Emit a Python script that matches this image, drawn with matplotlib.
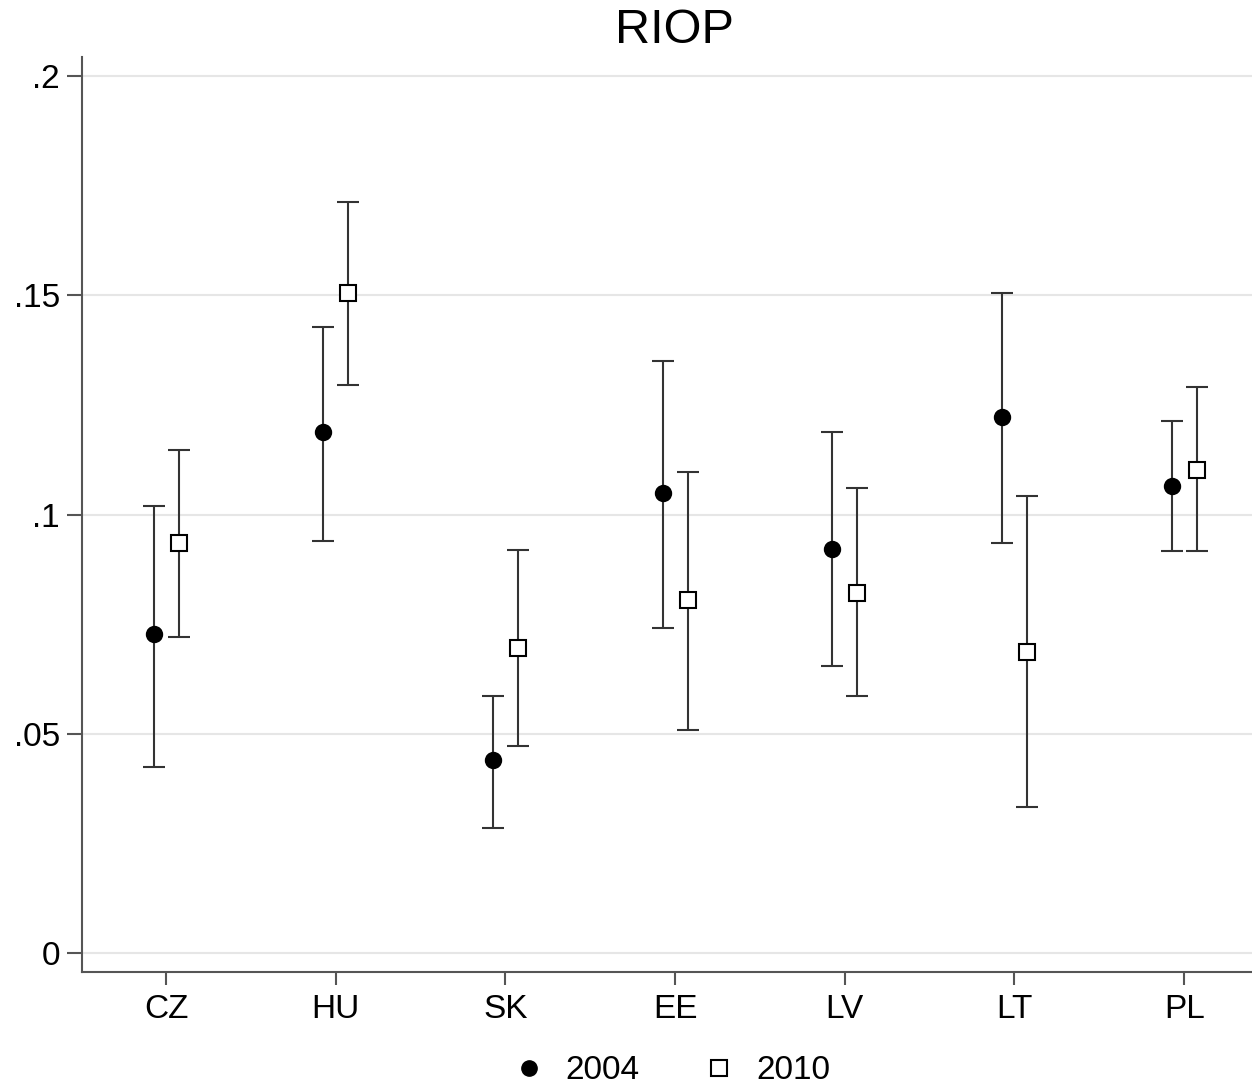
import matplotlib
matplotlib.use("Agg")
import matplotlib.pyplot as plt
from matplotlib.lines import Line2D
import numpy as np

plt.rcParams['font.family'] = ['Liberation Sans', 'DejaVu Sans']

countries = ['CZ', 'HU', 'SK', 'EE', 'LV', 'LT', 'PL']

# point estimates and 95% bounds
riop_2004 = [0.0728, 0.1188, 0.0440, 0.1049, 0.0922, 0.1223, 0.1065]
low_2004 = [0.0424, 0.0940, 0.0285, 0.0741, 0.0655, 0.0935, 0.0917]
high_2004 = [0.1020, 0.1428, 0.0586, 0.1350, 0.1188, 0.1505, 0.1214]

riop_2010 = [0.0935, 0.1505, 0.0696, 0.0805, 0.0821, 0.0687, 0.1102]
low_2010 = [0.0721, 0.1296, 0.0472, 0.0509, 0.0586, 0.0333, 0.0917]
high_2010 = [0.1147, 0.1713, 0.0919, 0.1097, 0.1061, 0.1042, 0.1291]

y_ticks = [0, 0.05, 0.1, 0.15, 0.2]
y_labels = ['0', '.05', '.1', '.15', '.2']

fig = plt.figure(figsize=(12.52, 10.87), dpi=100)
ax = fig.add_axes([0.0655, 0.1058, 0.9345, 0.8418])

pos = np.arange(1, len(countries) + 1)
off = 0.074
line_col = '#333333'


def draw(x, est, lo, hi, marker, face, size):
    est = np.array(est)
    yerr = [est - np.array(lo), np.array(hi) - est]
    ax.errorbar(x, est, yerr=yerr, fmt='none', ecolor=line_col,
                elinewidth=1.5, capsize=8, capthick=1.5, zorder=2)
    ax.plot(x, est, linestyle='none', marker=marker, markersize=size,
            markerfacecolor=face, markeredgecolor='black',
            markeredgewidth=1.5, zorder=3)


draw(pos - off, riop_2004, low_2004, high_2004, 'o', 'black', 11)
draw(pos + off, riop_2010, low_2010, high_2010, 's', 'white', 12)

ax.set_xlim(0.504, 7.40)
ax.set_ylim(-0.0043, 0.2044)
ax.set_xticks(pos)
ax.set_xticklabels(countries)
ax.set_yticks(y_ticks)
ax.set_yticklabels(y_labels)

for y in y_ticks:
    ax.axhline(y, color='#e6e6e6', linewidth=1.5, zorder=0)

for side in ['top', 'right']:
    ax.spines[side].set_visible(False)
for side in ['left', 'bottom']:
    ax.spines[side].set_color('#555555')
    ax.spines[side].set_linewidth(1.5)

ax.tick_params(axis='y', length=11, width=1.5, color='#555555',
               labelsize=24, pad=5)
ax.tick_params(axis='x', length=9, width=1.5, color='#555555',
               labelsize=24, pad=7)

fig.text(0.539, 0.972, 'RIOP', ha='center', va='center', fontsize=35)

handles = [
    Line2D([], [], linestyle='none', marker='o', markersize=11,
           markerfacecolor='black', markeredgecolor='black'),
    Line2D([], [], linestyle='none', marker='s', markersize=11,
           markerfacecolor='white', markeredgecolor='black',
           markeredgewidth=1.5),
]
fig.legend(handles, ['2004', '2010'], loc='center', ncol=2,
           bbox_to_anchor=(0.536, 0.015), frameon=False, fontsize=24,
           handlelength=1.0, handletextpad=0.6, columnspacing=1.9)

fig.savefig('out.png', dpi=100)
